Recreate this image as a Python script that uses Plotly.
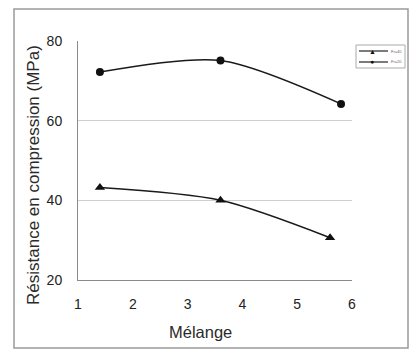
import plotly.graph_objects as go

# Data
x_tri = [1.4, 3.6, 5.6]
y_tri = [43.2, 40.0, 30.6]
x_circ = [1.4, 3.6, 5.8]
y_circ = [72.2, 75.1, 64.2]
names = ["Fr=40", "Fr=20"]
x_ticks = [1, 2, 3, 4, 5, 6]
y_ticks = [20, 40, 60, 80]
x_title = "Mélange"
y_title = "Résistance en compression (MPa)"

W, H = 410, 358
L, R, T, B = 78, 58, 41, 78
pw, ph = W - L - R, H - T - B

def px_x(p):
    return (p - L) / pw

def px_y(p):
    return (H - B - p) / ph

fig = go.Figure()
fig.add_trace(go.Scatter(
    x=x_tri, y=y_tri, name=names[0], mode="lines+markers", showlegend=False,
    line=dict(color="#1a1a1a", width=1.5, shape="spline", smoothing=0.8),
    marker=dict(symbol="triangle-up", size=9, color="#111111"),
))
fig.add_trace(go.Scatter(
    x=x_circ, y=y_circ, name=names[1], mode="lines+markers", showlegend=False,
    line=dict(color="#1a1a1a", width=1.5, shape="spline", smoothing=0.8),
    marker=dict(symbol="circle", size=8, color="#111111"),
))

# Frame and small legend box (decoration, in paper coordinates)
shapes = [
    dict(type="rect", xref="paper", yref="paper",
         x0=px_x(14), x1=px_x(408), y0=px_y(348), y1=px_y(9),
         line=dict(color="#9a9a9a", width=1.5), layer="below"),
    dict(type="rect", xref="paper", yref="paper",
         x0=px_x(356), x1=px_x(405), y0=px_y(68), y1=px_y(45),
         line=dict(color="#aaaaaa", width=1), fillcolor="white"),
]
annotations = [
    dict(xref="paper", yref="paper", x=px_x(200), y=px_y(332), text=x_title,
         showarrow=False, xanchor="center", yanchor="middle",
         font=dict(size=16.5, color="#2a2a2a")),
    dict(xref="paper", yref="paper", x=px_x(33), y=px_y(175), text=y_title,
         showarrow=False, xanchor="center", yanchor="middle", textangle=-90,
         font=dict(size=17, color="#2a2a2a")),
]
leg_y = [51, 62]
leg_sym = ["▲", "●"]
for i, nm in enumerate(names):
    yy = px_y(leg_y[i])
    shapes.append(dict(type="line", xref="paper", yref="paper",
                       x0=px_x(359), x1=px_x(388), y0=yy, y1=yy,
                       line=dict(color="#222222", width=1.2)))
    annotations.append(dict(xref="paper", yref="paper", x=px_x(372), y=yy,
                            text=leg_sym[i], showarrow=False, xanchor="center",
                            yanchor="middle", font=dict(size=7, color="#111111")))
    annotations.append(dict(xref="paper", yref="paper", x=px_x(389), y=yy,
                            text=nm, showarrow=False, xanchor="left", yanchor="middle",
                            font=dict(size=4, color="#666666")))

fig.update_layout(
    width=W, height=H,
    margin=dict(l=L, r=R, t=T, b=B, autoexpand=False),
    paper_bgcolor="white", plot_bgcolor="white",
    font=dict(family="Liberation Sans, Arial, sans-serif", color="#222222"),
    xaxis=dict(
        range=[1, 6], tickvals=x_ticks, showgrid=False, zeroline=False,
        showline=True, linecolor="#8a8a8a", linewidth=1,
        tickfont=dict(size=14, color="#222222"), ticks="", ticklabelstandoff=11,
    ),
    yaxis=dict(
        range=[20, 80], tickvals=y_ticks, showgrid=True, gridcolor="#cfcfcf",
        gridwidth=1, zeroline=False, showline=True, linecolor="#8a8a8a",
        linewidth=1, tickfont=dict(size=14, color="#222222"), ticks="", ticklabelstandoff=12,
    ),
    shapes=shapes,
    annotations=annotations,
)

fig.write_html("out.html", config={"displayModeBar": False},
               post_script="document.body.style.margin='0px';")
